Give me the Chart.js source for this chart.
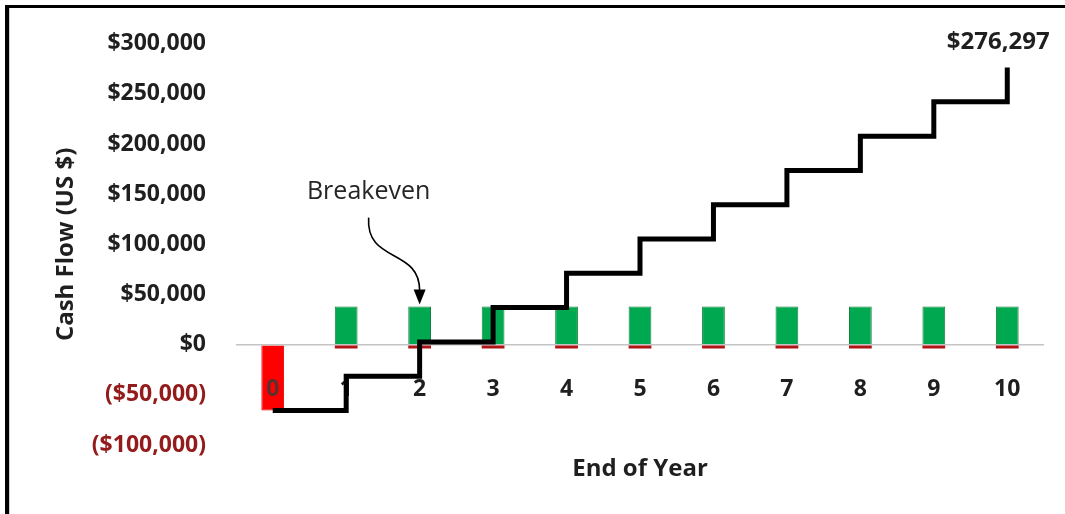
<!DOCTYPE html>
<html>
<head>
<meta charset="utf-8">
<title>Cumulative Cash Flow</title>
<script src="https://cdn.jsdelivr.net/npm/chart.js@4/dist/chart.umd.min.js"></script>
<style>
  html, body { margin: 0; padding: 0; background: #ffffff; }
  canvas { display: block; }
</style>
</head>
<body>
<canvas id="cashflow" width="1065" height="514"></canvas>
<script>
// End-of-year labels
const years = ['0', '1', '2', '3', '4', '5', '6', '7', '8', '9', '10'];

// Year-0 investment (outflow)
const investment = [-65603, null, null, null, null, null, null, null, null, null, null];

// Annual operating costs (outflows)
const annualCosts = [null, -3810, -3810, -3810, -3810, -3810, -3810, -3810, -3810, -3810, -3810];

// Annual cash inflows
const inflows = [null, 38000, 38000, 38000, 38000, 38000, 38000, 38000, 38000, 38000, 38000];

// Cumulative cash position at the end of each year
const cumulative = [-65603, -31413, 2777, 36967, 71157, 105347, 139537, 173727, 207917, 242107, 276297];

// Y axis ticks
const yTicks = [-100000, -50000, 0, 50000, 100000, 150000, 200000, 250000, 300000];

// Year in which the cumulative position turns positive
const breakevenYear = 2;

const FONT = "'Open Sans', 'Noto Sans', sans-serif";
const TEXT_DARK = '#1f1f1f';
const TEXT_NEG = '#941b1b';

function money(v) {
  const s = '$' + Math.abs(v).toLocaleString('en-US');
  return v < 0 ? '(' + s + ')' : s;
}

// White background and the frame lines along the top and left edges
const framePlugin = {
  id: 'frame',
  beforeDraw(chart) {
    const ctx = chart.ctx;
    ctx.save();
    ctx.fillStyle = '#ffffff';
    ctx.fillRect(0, 0, chart.width, chart.height);
    ctx.restore();
  },
  afterDraw(chart) {
    const ctx = chart.ctx;
    ctx.save();
    ctx.fillStyle = '#000000';
    ctx.fillRect(5, 5, chart.width - 5, 3);
    ctx.fillRect(5, 5, 4, chart.height - 5);
    ctx.fillStyle = '#d0d0d0';
    ctx.fillRect(9, 8, 1, chart.height - 8);
    ctx.restore();
  }
};

// Year numbers sit just below the zero line, over the bars but under the step line
const yearLabelsPlugin = {
  id: 'yearLabels',
  beforeDatasetDraw(chart, args) {
    if (args.index !== 0) return;
    const ctx = chart.ctx;
    const xs = chart.scales.x;
    const ys = chart.scales.y;
    const y = ys.getPixelForValue(0) + 45;
    ctx.save();
    ctx.font = 'bold 23px ' + FONT;
    ctx.textAlign = 'center';
    ctx.textBaseline = 'middle';
    chart.data.labels.forEach((lab, i) => {
      ctx.fillStyle = i === 0 ? '#5a3030' : TEXT_DARK;
      ctx.fillText(lab, xs.getPixelForValue(i), y);
    });
    ctx.restore();
  }
};

// Final cumulative value label and the breakeven callout
const annotationsPlugin = {
  id: 'annotations',
  afterDatasetsDraw(chart) {
    const ctx = chart.ctx;
    const xs = chart.scales.x;
    const ys = chart.scales.y;

    // value at the end of the step line
    const last = cumulative.length - 1;
    const px = xs.getPixelForValue(last);
    const py = ys.getPixelForValue(cumulative[last]);
    ctx.save();
    ctx.font = 'bold 24px ' + FONT;
    ctx.fillStyle = TEXT_DARK;
    ctx.textAlign = 'center';
    ctx.textBaseline = 'middle';
    ctx.fillText(money(cumulative[last]), px - 9, py - 25);

    // breakeven arrow pointing at the top of that year's inflow bar
    const tx = xs.getPixelForValue(breakevenYear);
    const ty = ys.getPixelForValue(inflows[breakevenYear]) - 2;
    const sx = tx - 51;
    const sy = ty - 87;
    ctx.fillText('', 0, 0);
    ctx.font = '25px ' + FONT;
    ctx.fillStyle = '#262626';
    ctx.fillText('Breakeven', sx, sy - 26);

    ctx.strokeStyle = '#000000';
    ctx.lineWidth = 1.6;
    ctx.beginPath();
    ctx.moveTo(sx, sy);
    ctx.bezierCurveTo(sx - 3, sy + 46, tx, sy + 30, tx, ty - 14);
    ctx.stroke();

    ctx.fillStyle = '#000000';
    ctx.beginPath();
    ctx.moveTo(tx, ty);
    ctx.lineTo(tx - 6, ty - 15);
    ctx.lineTo(tx + 6, ty - 15);
    ctx.closePath();
    ctx.fill();
    ctx.restore();
  }
};

new Chart(document.getElementById('cashflow'), {
  type: 'bar',
  data: {
    labels: years,
    datasets: [
      {
        type: 'line',
        label: 'Cumulative cash flow',
        data: cumulative,
        stepped: true,
        borderColor: '#000000',
        borderWidth: 5,
        borderJoinStyle: 'miter',
        pointRadius: 0,
        fill: false,
        order: 0
      },
      {
        label: 'Investment',
        data: investment,
        backgroundColor: '#ff0000',
        borderColor: '#e00000',
        borderWidth: 1,
        order: 1
      },
      {
        label: 'Annual costs',
        data: annualCosts,
        backgroundColor: '#b01414',
        order: 2
      },
      {
        label: 'Cash inflows',
        data: inflows,
        backgroundColor: '#00a94f',
        borderColor: '#17803f',
        borderWidth: 1,
        order: 3
      }
    ]
  },
  options: {
    responsive: false,
    animation: false,
    devicePixelRatio: 1,
    layout: { padding: { top: 43, right: 21, bottom: 0, left: 0 } },
    datasets: {
      bar: { barPercentage: 0.31, categoryPercentage: 1 }
    },
    plugins: {
      legend: { display: false },
      tooltip: { enabled: false }
    },
    scales: {
      x: {
        stacked: true,
        grid: { display: false },
        border: { display: false },
        ticks: { display: false },
        title: {
          display: true,
          text: 'End of Year',
          color: TEXT_DARK,
          font: { family: FONT, size: 24, weight: 'bold' },
          padding: { top: 0, bottom: 30 }
        },
        afterFit(scale) { scale.height = 69; }
      },
      y: {
        min: yTicks[0],
        max: yTicks[yTicks.length - 1],
        afterBuildTicks(scale) {
          scale.ticks = yTicks.map(v => ({ value: v }));
        },
        grid: {
          drawTicks: false,
          lineWidth: 1.5,
          color: c => (c.tick && c.tick.value === 0 ? '#c4c4c4' : 'rgba(0,0,0,0)')
        },
        border: { display: false },
        ticks: {
          padding: 30,
          font: { family: FONT, size: 23, weight: 'bold' },
          color: c => (c.tick.value < 0 ? TEXT_NEG : TEXT_DARK),
          callback: v => money(v)
        },
        title: {
          display: true,
          text: 'Cash Flow (US $)',
          color: TEXT_DARK,
          font: { family: FONT, size: 24, weight: 'bold' },
          padding: { top: 52, bottom: 0 }
        },
        afterFit(scale) { scale.width = 236; }
      }
    }
  },
  plugins: [framePlugin, yearLabelsPlugin, annotationsPlugin]
});
</script>
</body>
</html>
